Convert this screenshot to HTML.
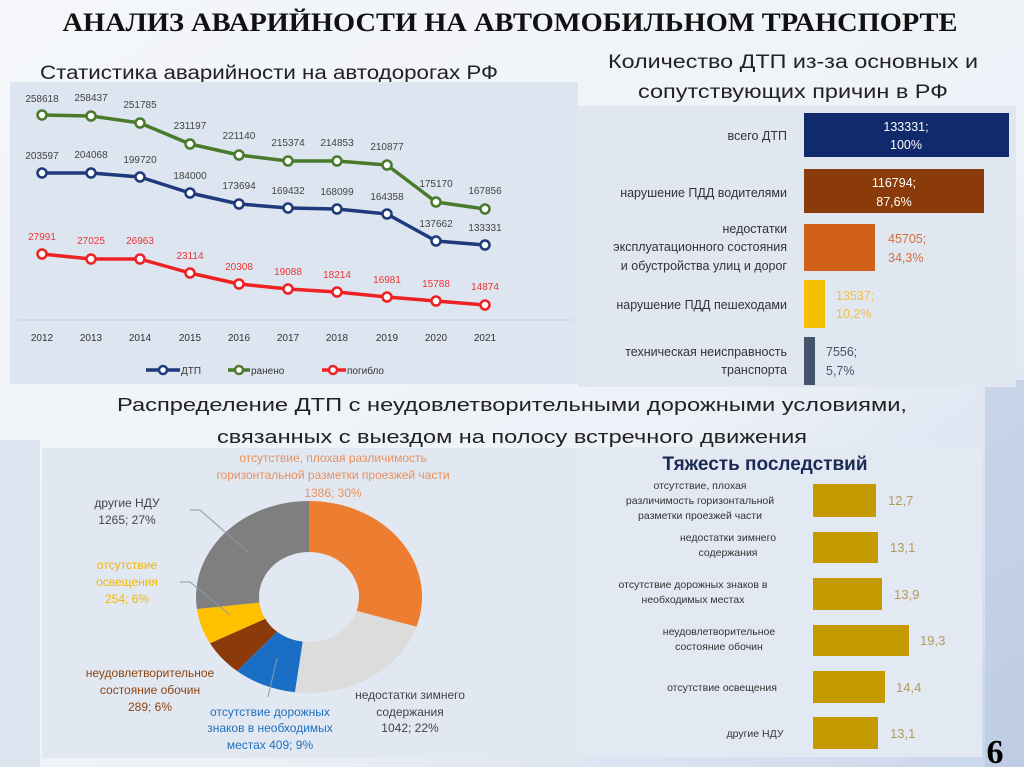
<!DOCTYPE html>
<html><head><meta charset="utf-8"><style>
html,body{margin:0;padding:0;width:1024px;height:767px;overflow:hidden;background:#f1f4f9}
svg{display:block}
text{font-family:"Liberation Sans","DejaVu Sans",sans-serif}
</style></head><body>
<svg width="1024" height="767" viewBox="0 0 1024 767" xmlns="http://www.w3.org/2000/svg">
<defs>
<linearGradient id="bg" x1="0" y1="0" x2="1" y2="1">
<stop offset="0" stop-color="#f4f6fa"/><stop offset="0.6" stop-color="#eef2f8"/><stop offset="1" stop-color="#c9d6ea"/>
</linearGradient>
</defs>
<rect width="1024" height="767" fill="url(#bg)"/>
<rect x="985" y="380" width="39" height="387" fill="#b7c7e0" opacity="0.6"/>
<rect x="0" y="440" width="40" height="327" fill="#d4deec" opacity="0.7"/>

<text x="510" y="31" text-anchor="middle" font-family="Liberation Serif,serif" font-weight="bold" font-size="26" textLength="895" lengthAdjust="spacingAndGlyphs" style="font-family:'Liberation Serif',serif" fill="#111">АНАЛИЗ АВАРИЙНОСТИ НА АВТОМОБИЛЬНОМ ТРАНСПОРТЕ</text>
<text x="40" y="79" font-size="19" textLength="458" lengthAdjust="spacingAndGlyphs" fill="#222">Статистика аварийности на автодорогах РФ</text>
<text x="793" y="68" text-anchor="middle" font-size="19" textLength="370" lengthAdjust="spacingAndGlyphs" fill="#222">Количество ДТП из-за основных и</text>
<text x="793" y="98" text-anchor="middle" font-size="19" textLength="310" lengthAdjust="spacingAndGlyphs" fill="#222">сопутствующих причин в РФ</text>

<!-- line chart panel -->
<rect x="10" y="82" width="568" height="302" fill="#dde5f0"/>
<line x1="18" y1="320" x2="572" y2="320" stroke="#c8cfda" stroke-width="1"/>
<g font-size="10" fill="#333" text-anchor="middle">
<text x="42" y="341">2012</text><text x="91" y="341">2013</text><text x="140" y="341">2014</text><text x="190" y="341">2015</text><text x="239" y="341">2016</text><text x="288" y="341">2017</text><text x="337" y="341">2018</text><text x="387" y="341">2019</text><text x="436" y="341">2020</text><text x="485" y="341">2021</text>
</g>
<g fill="none" stroke-width="3.5" stroke-linejoin="round">
<polyline stroke="#4a7a2c" points="42,115 91,116 140,123 190,144 239,155 288,161 337,161 387,165 436,202 485,209"/>
<polyline stroke="#1f3a7a" points="42,173 91,173 140,177 190,193 239,204 288,208 337,209 387,214 436,241 485,245"/>
<polyline stroke="#ee2222" points="42,254 91,259 140,259 190,273 239,284 288,289 337,292 387,297 436,301 485,305"/>
</g>
<g fill="#fff" stroke-width="2.5">
<g stroke="#4a7a2c"><circle cx="42" cy="115" r="4.5"/><circle cx="91" cy="116" r="4.5"/><circle cx="140" cy="123" r="4.5"/><circle cx="190" cy="144" r="4.5"/><circle cx="239" cy="155" r="4.5"/><circle cx="288" cy="161" r="4.5"/><circle cx="337" cy="161" r="4.5"/><circle cx="387" cy="165" r="4.5"/><circle cx="436" cy="202" r="4.5"/><circle cx="485" cy="209" r="4.5"/></g>
<g stroke="#1f3a7a"><circle cx="42" cy="173" r="4.5"/><circle cx="91" cy="173" r="4.5"/><circle cx="140" cy="177" r="4.5"/><circle cx="190" cy="193" r="4.5"/><circle cx="239" cy="204" r="4.5"/><circle cx="288" cy="208" r="4.5"/><circle cx="337" cy="209" r="4.5"/><circle cx="387" cy="214" r="4.5"/><circle cx="436" cy="241" r="4.5"/><circle cx="485" cy="245" r="4.5"/></g>
<g stroke="#ee2222"><circle cx="42" cy="254" r="4.5"/><circle cx="91" cy="259" r="4.5"/><circle cx="140" cy="259" r="4.5"/><circle cx="190" cy="273" r="4.5"/><circle cx="239" cy="284" r="4.5"/><circle cx="288" cy="289" r="4.5"/><circle cx="337" cy="292" r="4.5"/><circle cx="387" cy="297" r="4.5"/><circle cx="436" cy="301" r="4.5"/><circle cx="485" cy="305" r="4.5"/></g>
</g>
<g font-size="10" fill="#444" text-anchor="middle">
<text x="42" y="102">258618</text><text x="91" y="101">258437</text><text x="140" y="108">251785</text><text x="190" y="129">231197</text><text x="239" y="139">221140</text><text x="288" y="146">215374</text><text x="337" y="146">214853</text><text x="387" y="150">210877</text><text x="436" y="187">175170</text><text x="485" y="194">167856</text>
<text x="42" y="159">203597</text><text x="91" y="158">204068</text><text x="140" y="163">199720</text><text x="190" y="179">184000</text><text x="239" y="189">173694</text><text x="288" y="194">169432</text><text x="337" y="195">168099</text><text x="387" y="200">164358</text><text x="436" y="227">137662</text><text x="485" y="231">133331</text>
</g>
<g font-size="10" fill="#e33" text-anchor="middle">
<text x="42" y="240">27991</text><text x="91" y="244">27025</text><text x="140" y="244">26963</text><text x="190" y="259">23114</text><text x="239" y="270">20308</text><text x="288" y="275">19088</text><text x="337" y="278">18214</text><text x="387" y="283">16981</text><text x="436" y="287">15788</text><text x="485" y="290">14874</text>
</g>
<g stroke-width="3.5">
<line x1="146" y1="370" x2="180" y2="370" stroke="#1f3a7a"/><circle cx="163" cy="370" r="4" fill="#fff" stroke="#1f3a7a" stroke-width="2.5"/>
<line x1="228" y1="370" x2="250" y2="370" stroke="#4a7a2c"/><circle cx="239" cy="370" r="4" fill="#fff" stroke="#4a7a2c" stroke-width="2.5"/>
<line x1="322" y1="370" x2="346" y2="370" stroke="#ee2222"/><circle cx="333" cy="370" r="4" fill="#fff" stroke="#ee2222" stroke-width="2.5"/>
</g>
<g font-size="10" fill="#333"><text x="181" y="374">ДТП</text><text x="251" y="374">ранено</text><text x="347" y="374">погибло</text></g>

<!-- right bar chart -->
<rect x="578" y="106" width="438" height="281" fill="#e0e7f1"/>
<rect x="804" y="113" width="205" height="44" fill="#102a6b"/>
<rect x="804" y="169" width="180" height="44" fill="#8b3a0a"/>
<rect x="804" y="224" width="71" height="47" fill="#d0601a"/>
<rect x="804" y="280" width="21" height="48" fill="#f5c000"/>
<rect x="804" y="337" width="11" height="48" fill="#44546a"/>
<g font-size="12.5" fill="#fff" text-anchor="middle">
<text x="906" y="131">133331;</text><text x="906" y="149">100%</text>
<text x="894" y="187">116794;</text><text x="894" y="206">87,6%</text>
</g>
<g font-size="12.5"><text x="888" y="243" fill="#d07040">45705;</text><text x="888" y="262" fill="#d07040">34,3%</text>
<text x="836" y="300" fill="#f0c040">13537;</text><text x="836" y="318" fill="#f0c040">10,2%</text>
<text x="826" y="356" fill="#44546a">7556;</text><text x="826" y="375" fill="#44546a">5,7%</text></g>
<g font-size="12.5" fill="#333" text-anchor="end">
<text x="787" y="140">всего ДТП</text>
<text x="787" y="197">нарушение ПДД водителями</text>
<text x="787" y="233">недостатки</text>
<text x="787" y="251">эксплуатационного состояния</text>
<text x="787" y="270">и обустройства улиц и дорог</text>
<text x="787" y="309">нарушение ПДД пешеходами</text>
<text x="787" y="356">техническая неисправность</text>
<text x="787" y="374">транспорта</text>
</g>

<text x="512" y="411" text-anchor="middle" font-size="18" fill="#222" textLength="790" lengthAdjust="spacingAndGlyphs">Распределение ДТП с неудовлетворительными дорожными условиями,</text>
<text x="512" y="443" text-anchor="middle" font-size="18" fill="#222" textLength="590" lengthAdjust="spacingAndGlyphs">связанных с выездом на полосу встречного движения</text>

<!-- donut panel -->
<rect x="42" y="448" width="556" height="310" fill="#e2e8f2"/>
<path d="M309,501 A113,96 0 0 1 416.5,626.7 L356.6,610.9 A50,45 0 0 0 309,552 Z" fill="#ed7d31"/>
<path d="M416.5,626.7 A113,96 0 0 1 294.9,692.2 L302.7,641.6 A50,45 0 0 0 356.6,610.9 Z" fill="#dcdcdc"/>
<path d="M294.9,692.2 A113,96 0 0 1 237,671 L277.1,631.7 A50,45 0 0 0 302.7,641.6 Z" fill="#1a6fc4"/>
<path d="M237,671 A113,96 0 0 1 210,643.3 L265.2,618.7 A50,45 0 0 0 277.1,631.7 Z" fill="#8b3a0a"/>
<path d="M210,643.3 A113,96 0 0 1 196.9,609 L259.4,602.6 A50,45 0 0 0 265.2,618.7 Z" fill="#ffc000"/>
<path d="M196.9,609 A113,96 0 0 1 309,501 L309,552 A50,45 0 0 0 259.4,602.6 Z" fill="#7f7f7f"/>
<g stroke="#8a9aaa" stroke-width="1" fill="none">
<polyline points="190,510 200,510 248,552"/><polyline points="180,582 190,582 230,615"/><line x1="277" y1="658" x2="268" y2="697"/>
</g>
<g font-size="12" text-anchor="middle">
<text x="333" y="462" fill="#e8905a">отсутствие, плохая различимость</text>
<text x="333" y="479" fill="#e8905a">горизонтальной разметки проезжей части</text>
<text x="333" y="497" fill="#e8905a">1386; 30%</text>
<text x="127" y="507" fill="#444">другие НДУ</text>
<text x="127" y="524" fill="#444">1265; 27%</text>
<text x="127" y="569" fill="#f0b800">отсутствие</text>
<text x="127" y="586" fill="#f0b800">освещения</text>
<text x="127" y="603" fill="#f0b800">254; 6%</text>
<text x="150" y="677" fill="#8b4513">неудовлетворительное</text>
<text x="150" y="694" fill="#8b4513">состояние обочин</text>
<text x="150" y="711" fill="#8b4513">289; 6%</text>
<text x="270" y="716" fill="#1f6fbf">отсутствие дорожных</text>
<text x="270" y="732" fill="#1f6fbf">знаков в необходимых</text>
<text x="270" y="749" fill="#1f6fbf">местах 409; 9%</text>
<text x="410" y="699" fill="#444">недостатки зимнего</text>
<text x="410" y="716" fill="#444">содержания</text>
<text x="410" y="732" fill="#444">1042; 22%</text>
</g>

<!-- severity panel -->
<rect x="582" y="447" width="400" height="310" fill="#e3e9f2"/>
<text x="765" y="470" text-anchor="middle" font-size="19" font-weight="bold" fill="#1a2a55">Тяжесть последствий</text>
<g fill="#c49a00">
<rect x="813" y="484" width="63" height="33"/><rect x="813" y="532" width="65" height="31"/><rect x="813" y="578" width="69" height="32"/><rect x="813" y="625" width="96" height="31"/><rect x="813" y="671" width="72" height="32"/><rect x="813" y="717" width="65" height="32"/>
</g>
<g font-size="13" fill="#b49a5a" style="font-family:'Liberation Serif',serif">
<text x="888" y="505" font-family="Liberation Serif,serif">12,7</text><text x="890" y="552">13,1</text><text x="894" y="599">13,9</text><text x="920" y="645">19,3</text><text x="896" y="692">14,4</text><text x="890" y="738">13,1</text>
</g>
<g font-size="10.5" fill="#333" text-anchor="middle">
<text x="700" y="489">отсутствие, плохая</text>
<text x="700" y="504">различимость горизонтальной</text>
<text x="700" y="519">разметки проезжей части</text>
<text x="728" y="541">недостатки зимнего</text>
<text x="728" y="556">содержания</text>
<text x="693" y="588">отсутствие дорожных знаков в</text>
<text x="693" y="603">необходимых местах</text>
<text x="719" y="635">неудовлетворительное</text>
<text x="719" y="650">состояние обочин</text>
<text x="722" y="691">отсутствие освещения</text>
<text x="755" y="737">другие НДУ</text>
</g>
<text x="995" y="763" text-anchor="middle" font-size="34" font-weight="bold" fill="#000" style="font-family:'Liberation Serif',serif">6</text>
</svg>
</body></html>
